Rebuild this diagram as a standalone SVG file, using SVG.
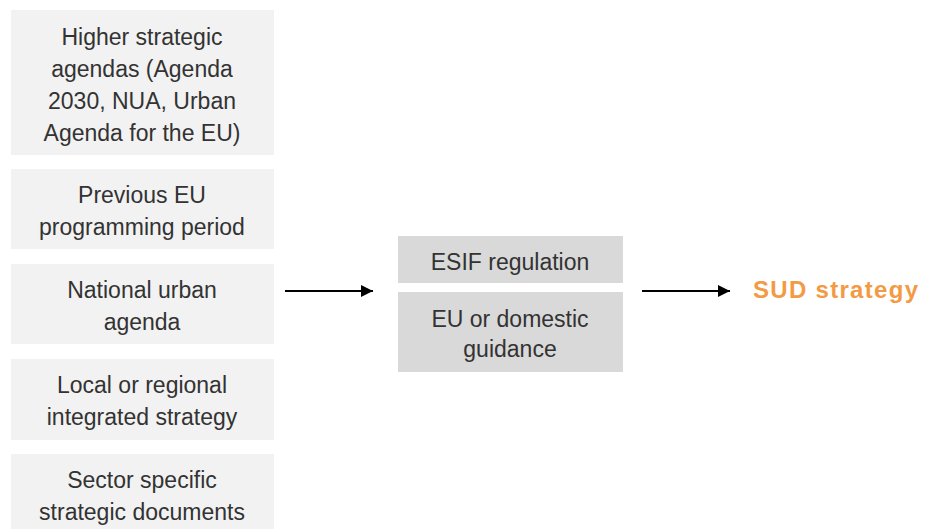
<svg xmlns="http://www.w3.org/2000/svg" width="936" height="529" viewBox="0 0 936 529">
<style>
.src{fill:#f2f2f2}
.mid{fill:#d9d9d9}
.t{font-family:"Liberation Sans",Arial,sans-serif;font-size:23px;fill:#333;text-anchor:middle}
.out{font-family:"Liberation Sans",Arial,sans-serif;font-size:24px;font-weight:bold;fill:#f39a45;letter-spacing:1.3px}
.conn{stroke:#000;stroke-width:1.8;fill:none}
</style>
<defs>
<marker id="ah" viewBox="0 0 12 12" refX="12" refY="6" markerWidth="12" markerHeight="12" markerUnits="userSpaceOnUse" orient="auto">
<path d="M0,0 L12,6 L0,12 z" fill="#000"/>
</marker>
</defs>
<rect width="936" height="529" fill="#fff"/>
<g id="n-higher">
<rect class="src" x="11" y="10" width="263" height="145"/>
<text class="t" x="142" y="45">Higher strategic</text>
<text class="t" x="142" y="77">agendas (Agenda</text>
<text class="t" x="142" y="109">2030, NUA, Urban</text>
<text class="t" x="142" y="141">Agenda for the EU)</text>
</g>
<g id="n-previous">
<rect class="src" x="11" y="169" width="263" height="80"/>
<text class="t" x="142" y="203">Previous EU</text>
<text class="t" x="142" y="235">programming period</text>
</g>
<g id="n-national">
<rect class="src" x="11" y="264" width="263" height="80"/>
<text class="t" x="142" y="298">National urban</text>
<text class="t" x="142" y="330">agenda</text>
</g>
<g id="n-local">
<rect class="src" x="11" y="359" width="263" height="81"/>
<text class="t" x="142" y="393">Local or regional</text>
<text class="t" x="142" y="425">integrated strategy</text>
</g>
<g id="n-sector">
<rect class="src" x="11" y="454" width="263" height="80"/>
<text class="t" x="142" y="488">Sector specific</text>
<text class="t" x="142" y="520">strategic documents</text>
</g>
<g id="n-esif">
<rect class="mid" x="398" y="236" width="225" height="47"/>
<text class="t" x="510" y="270">ESIF regulation</text>
</g>
<g id="n-guidance">
<rect class="mid" x="398" y="292" width="225" height="80"/>
<text class="t" x="510" y="327">EU or domestic</text>
<text class="t" x="510" y="357">guidance</text>
</g>
<g id="n-sud">
<text class="out" x="753" y="298">SUD strategy</text>
</g>
<g id="connectors">
<line class="conn" x1="285" y1="291" x2="373" y2="291" marker-end="url(#ah)"/>
<line class="conn" x1="642" y1="291" x2="730" y2="291" marker-end="url(#ah)"/>
</g>
</svg>
